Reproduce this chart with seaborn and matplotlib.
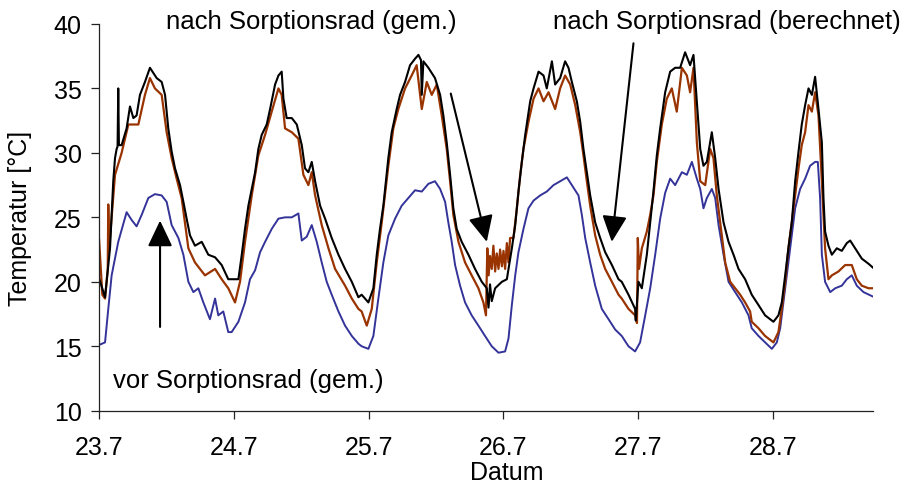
import matplotlib
matplotlib.use('Agg')
import matplotlib.pyplot as plt
import seaborn as sns
import pandas as pd

# nach Sorptionsrad (berechnet) - schwarz
black_x = [23.700, 23.745, 23.782, 23.806, 23.819, 23.831, 23.838, 23.843, 23.848, 23.868,
           23.905, 23.930, 23.955, 23.979, 24.004, 24.041, 24.078, 24.103, 24.128, 24.165,
           24.190, 24.214, 24.239, 24.264, 24.301, 24.326, 24.350, 24.375, 24.412, 24.462,
           24.511, 24.561, 24.610, 24.659, 24.684, 24.734, 24.759, 24.783, 24.808, 24.833,
           24.858, 24.882, 24.907, 24.944, 24.969, 25.006, 25.031, 25.055, 25.068, 25.092,
           25.130, 25.167, 25.204, 25.228, 25.253, 25.278, 25.303, 25.340, 25.377, 25.426,
           25.476, 25.525, 25.575, 25.624, 25.648, 25.698, 25.735, 25.760, 25.784, 25.809,
           25.846, 25.871, 25.908, 25.933, 25.970, 26.007, 26.044, 26.069, 26.088, 26.094,
           26.106, 26.143, 26.192, 26.230, 26.254, 26.279, 26.304, 26.328, 26.353, 26.390,
           26.440, 26.489, 26.539, 26.576, 26.589, 26.600, 26.613, 26.638, 26.688, 26.725,
           26.762, 26.787, 26.811, 26.836, 26.861, 26.898, 26.923, 26.960, 26.997, 27.021,
           27.059, 27.083, 27.120, 27.157, 27.182, 27.207, 27.244, 27.269, 27.293, 27.318,
           27.343, 27.380, 27.417, 27.454, 27.504, 27.553, 27.577, 27.627, 27.676, 27.681,
           27.701, 27.726, 27.763, 27.788, 27.812, 27.837, 27.862, 27.899, 27.936, 27.973,
           28.010, 28.047, 28.084, 28.109, 28.134, 28.159, 28.183, 28.208, 28.245, 28.270,
           28.295, 28.332, 28.369, 28.406, 28.443, 28.492, 28.541, 28.591, 28.640, 28.702,
           28.739, 28.764, 28.789, 28.813, 28.838, 28.863, 28.888, 28.912, 28.937, 28.962,
           28.987, 29.011, 29.036, 29.061, 29.073, 29.085, 29.110, 29.135, 29.172, 29.209,
           29.246, 29.271, 29.308, 29.357, 29.407, 29.451]
black_y = [20.3, 18.8, 22.6, 27.8, 29.6, 30.3, 30.5, 35.0, 30.6, 30.6,
           31.9, 33.6, 32.7, 32.9, 34.5, 35.5, 36.6, 36.2, 35.8, 35.5,
           34.5, 31.9, 30.1, 28.8, 27.5, 26.2, 24.9, 23.6, 22.8, 23.1,
           22.1, 21.9, 21.3, 20.2, 20.2, 20.2, 22.1, 24.1, 25.9, 27.2,
           28.5, 30.3, 31.4, 32.2, 33.4, 35.3, 36.0, 36.3, 34.2, 32.7,
           32.7, 32.2, 30.6, 28.8, 28.5, 29.3, 27.8, 25.9, 24.9, 23.4,
           22.1, 21.0, 20.0, 18.8, 19.0, 18.4, 19.5, 22.1, 24.1, 25.9,
           29.6, 31.6, 33.4, 34.5, 35.5, 36.8, 37.3, 37.6, 37.2, 34.5,
           37.1, 36.6, 35.8, 34.5, 32.9, 30.8, 28.3, 25.7, 24.1, 23.1,
           22.1, 21.0, 20.0, 19.5, 18.0, 19.8, 18.5, 19.5, 20.0, 20.2,
           22.6, 24.4, 27.0, 29.3, 31.4, 34.0, 35.0, 36.3, 36.0, 35.0,
           37.1, 35.3, 35.8, 37.1, 36.6, 35.5, 34.0, 32.4, 30.3, 28.5,
           26.7, 24.6, 23.4, 22.3, 21.3, 20.2, 20.0, 19.0, 17.9, 17.0,
           20.0, 19.5, 22.1, 24.6, 27.0, 29.8, 31.9, 34.7, 36.3, 36.6,
           36.6, 37.8, 36.8, 37.6, 34.0, 30.3, 29.0, 29.3, 31.6, 29.6,
           27.2, 24.6, 23.1, 22.1, 21.0, 20.2, 19.0, 18.2, 17.4, 16.9,
           17.4, 18.4, 20.5, 22.6, 24.6, 27.8, 30.1, 32.2, 33.7, 35.0,
           34.5, 35.9, 33.4, 30.8, 26.5, 23.9, 22.8, 22.1, 22.6, 22.4,
           23.0, 23.2, 22.6, 21.8, 21.4, 21.0]

# nach Sorptionsrad (gem.) - braun
brown_x = [23.700, 23.725, 23.745, 23.765, 23.769, 23.775, 23.819, 23.868, 23.918, 23.992,
           24.041, 24.078, 24.115, 24.165, 24.202, 24.239, 24.276, 24.313, 24.363, 24.412,
           24.486, 24.561, 24.610, 24.659, 24.709, 24.746, 24.783, 24.833, 24.882, 24.932,
           24.981, 25.031, 25.055, 25.080, 25.130, 25.179, 25.216, 25.253, 25.278, 25.303,
           25.352, 25.402, 25.451, 25.525, 25.575, 25.624, 25.648, 25.686, 25.723, 25.760,
           25.797, 25.846, 25.883, 25.920, 25.970, 26.019, 26.056, 26.094, 26.131, 26.168,
           26.205, 26.242, 26.279, 26.304, 26.328, 26.366, 26.415, 26.464, 26.514, 26.551,
           26.570, 26.580, 26.590, 26.600, 26.613, 26.625, 26.638, 26.650, 26.663, 26.675,
           26.688, 26.700, 26.712, 26.725, 26.737, 26.749, 26.774, 26.799, 26.824, 26.848,
           26.885, 26.923, 26.960, 26.997, 27.034, 27.083, 27.120, 27.157, 27.195, 27.232,
           27.269, 27.293, 27.318, 27.343, 27.380, 27.417, 27.454, 27.504, 27.553, 27.577,
           27.627, 27.676, 27.690, 27.696, 27.705, 27.726, 27.763, 27.788, 27.812, 27.837,
           27.874, 27.911, 27.948, 27.985, 28.023, 28.060, 28.084, 28.109, 28.134, 28.159,
           28.196, 28.233, 28.257, 28.282, 28.307, 28.344, 28.381, 28.418, 28.455, 28.492,
           28.529, 28.541, 28.591, 28.640, 28.702, 28.739, 28.764, 28.789, 28.813, 28.851,
           28.888, 28.912, 28.937, 28.962, 28.987, 29.011, 29.036, 29.061, 29.085, 29.110,
           29.135, 29.184, 29.234, 29.283, 29.320, 29.357, 29.407, 29.451]
brown_y = [23.4, 19.0, 18.7, 21.0, 26.0, 22.5, 28.3, 30.0, 32.2, 32.2,
           34.5, 35.8, 35.0, 34.5, 31.6, 29.6, 28.0, 26.5, 22.6, 21.5,
           20.5, 21.0, 20.2, 19.5, 18.4, 20.0, 23.1, 26.7, 29.8, 31.4,
           33.2, 35.0, 34.5, 31.9, 31.6, 31.1, 28.3, 27.5, 28.5, 26.7,
           24.4, 22.6, 21.0, 19.7, 18.7, 17.9, 17.7, 16.6, 17.9, 21.5,
           24.6, 29.0, 31.9, 33.4, 35.0, 36.0, 36.8, 33.4, 35.5, 34.5,
           35.3, 32.9, 30.3, 27.8, 25.2, 23.1, 21.5, 20.5, 19.5, 18.4,
           17.4, 22.6, 20.5, 22.0, 21.0, 22.8, 20.8, 22.2, 21.0, 22.5,
           21.2, 22.4, 21.0, 23.0, 21.5, 23.4, 23.4, 25.7, 28.3, 30.3,
           32.4, 34.2, 35.0, 34.0, 34.7, 33.4, 35.0, 36.0, 35.3, 33.7,
           31.6, 29.8, 27.8, 25.9, 23.6, 22.1, 21.0, 20.0, 19.0, 18.7,
           17.9, 17.4, 16.8, 23.4, 21.0, 22.6, 23.9, 25.2, 26.7, 29.3,
           32.2, 34.2, 35.0, 33.2, 36.6, 36.0, 34.7, 36.6, 30.8, 27.8,
           27.5, 30.3, 29.6, 26.7, 24.6, 21.5, 20.0, 19.5, 19.0, 18.4,
           17.7, 16.9, 16.4, 15.8, 15.3, 16.1, 17.9, 20.0, 22.6, 25.7,
           28.8, 30.6, 31.6, 33.7, 33.2, 34.7, 32.9, 27.8, 22.6, 20.2,
           20.5, 20.8, 21.3, 21.3, 20.2, 19.7, 19.5, 19.5]

# vor Sorptionsrad (gem.) - blau
blue_x = [23.700, 23.745, 23.769, 23.794, 23.843, 23.905, 23.942, 23.979, 24.017, 24.066,
          24.115, 24.165, 24.202, 24.239, 24.289, 24.326, 24.363, 24.400, 24.437, 24.474,
          24.523, 24.561, 24.585, 24.622, 24.659, 24.684, 24.734, 24.783, 24.820, 24.858,
          24.895, 24.932, 24.981, 25.031, 25.080, 25.130, 25.179, 25.204, 25.241, 25.278,
          25.315, 25.352, 25.389, 25.426, 25.476, 25.525, 25.575, 25.624, 25.648, 25.698,
          25.735, 25.772, 25.809, 25.846, 25.896, 25.945, 25.995, 26.044, 26.094, 26.143,
          26.192, 26.230, 26.267, 26.291, 26.316, 26.341, 26.378, 26.415, 26.464, 26.514,
          26.563, 26.613, 26.663, 26.712, 26.737, 26.762, 26.787, 26.811, 26.848, 26.885,
          26.923, 26.972, 27.021, 27.071, 27.120, 27.170, 27.207, 27.256, 27.281, 27.306,
          27.343, 27.380, 27.429, 27.479, 27.528, 27.577, 27.627, 27.676, 27.713, 27.751,
          27.788, 27.825, 27.862, 27.899, 27.936, 27.973, 28.023, 28.060, 28.097, 28.134,
          28.159, 28.183, 28.208, 28.245, 28.270, 28.295, 28.332, 28.369, 28.418, 28.468,
          28.517, 28.541, 28.591, 28.640, 28.690, 28.727, 28.752, 28.789, 28.826, 28.863,
          28.900, 28.937, 28.974, 29.011, 29.031, 29.048, 29.061, 29.085, 29.123, 29.160,
          29.209, 29.246, 29.283, 29.320, 29.370, 29.451]
blue_y = [15.1, 15.3, 17.9, 20.5, 23.1, 25.4, 24.8, 24.3, 25.2, 26.5,
          26.8, 26.7, 26.2, 24.4, 23.4, 22.1, 20.0, 19.2, 19.5, 18.4,
          17.1, 18.7, 17.4, 17.7, 16.1, 16.1, 16.9, 18.4, 20.2, 20.9,
          22.3, 23.1, 24.1, 24.9, 25.0, 25.0, 25.3, 23.2, 23.5, 24.4,
          23.1, 21.5, 20.0, 19.0, 17.7, 16.6, 15.8, 15.2, 15.0, 14.8,
          15.8, 18.7, 21.5, 23.6, 24.9, 25.9, 26.5, 27.1, 27.0, 27.6,
          27.8, 27.2, 26.2, 24.6, 23.1, 21.3, 19.7, 18.4, 17.4, 16.6,
          15.8, 15.0, 14.5, 14.6, 15.6, 18.2, 20.5, 22.3, 24.1, 25.7,
          26.3, 26.7, 27.0, 27.5, 27.8, 28.1, 27.5, 26.7, 25.2, 23.4,
          21.5, 19.7, 17.9, 17.1, 16.3, 15.8, 15.0, 14.6, 15.3, 17.4,
          19.5, 22.1, 24.9, 26.9, 28.0, 27.5, 28.5, 28.3, 29.3, 28.0,
          27.2, 25.7, 26.5, 27.2, 26.5, 24.4, 22.1, 20.0, 19.2, 18.4,
          17.4, 16.4, 15.8, 15.3, 14.8, 15.3, 16.4, 19.5, 22.6, 25.7,
          27.2, 28.0, 29.0, 29.3, 29.3, 26.5, 22.1, 20.0, 19.2, 19.5,
          19.7, 20.2, 20.5, 19.7, 19.2, 18.8]

x_ticks = [23.7, 24.7, 25.7, 26.7, 27.7, 28.7]
y_ticks = [10, 15, 20, 25, 30, 35, 40]

sns.set_style('white')
plt.rcParams['font.family'] = ['Liberation Sans', 'DejaVu Sans']
plt.rcParams['text.color'] = 'black'
plt.rcParams['axes.labelcolor'] = 'black'
plt.rcParams['xtick.color'] = 'black'
plt.rcParams['ytick.color'] = 'black'

fig = plt.figure(figsize=(9.08, 4.89), dpi=100)
ax = fig.add_axes([0.109, 0.158, 0.853, 0.791])

sns.lineplot(x=blue_x, y=blue_y, color='#333399', lw=1.4, estimator=None, sort=False, ax=ax)
sns.lineplot(x=brown_x, y=brown_y, color='#993300', lw=1.6, estimator=None, sort=False, ax=ax)
sns.lineplot(x=black_x, y=black_y, color='black', lw=1.5, estimator=None, sort=False, ax=ax)

ax.set_xlim(23.7, 29.444)
ax.set_ylim(10, 40)
ax.set_xticks(x_ticks)
ax.set_xticklabels([str(t) for t in x_ticks])
ax.set_yticks(y_ticks)

sns.despine(ax=ax)
for s in ['left', 'bottom']:
    ax.spines[s].set_color('#222222')
    ax.spines[s].set_linewidth(0.9)
ax.tick_params(axis='both', direction='out', length=5.5, width=0.9, color='#222222',
               labelsize=18, left=True, bottom=True)
ax.tick_params(axis='x', pad=12)
ax.tick_params(axis='y', pad=7)

ax.set_xlabel('Datum', fontsize=18)
ax.set_ylabel('Temperatur [°C]', fontsize=18)
ax.xaxis.set_label_coords(0.527, -0.128)
ax.yaxis.set_label_coords(-0.086, 0.5)

# Beschriftungen mit Pfeilen
txt = dict(fontsize=18.5, ha='center', va='center', clip_on=False)
ax.text(25.276, 40.25, 'nach Sorptionsrad (gem.)', **txt)
ax.text(28.36, 40.25, 'nach Sorptionsrad (berechnet)', **txt)
ax.text(24.81, 12.4, 'vor Sorptionsrad (gem.)', **txt)

arrow = dict(arrowstyle='-|>,head_length=0.8,head_width=0.38', color='black', lw=1.5,
             mutation_scale=20, shrinkA=0, shrinkB=0)
ax.annotate('', xy=(24.153, 24.75), xytext=(24.153, 16.5), arrowprops=arrow)
ax.annotate('', xy=(26.576, 23.1), xytext=(26.309, 34.6), arrowprops=arrow)
ax.annotate('', xy=(27.503, 23.1), xytext=(27.664, 38.5), arrowprops=arrow)

plt.savefig('out.png', dpi=100)
